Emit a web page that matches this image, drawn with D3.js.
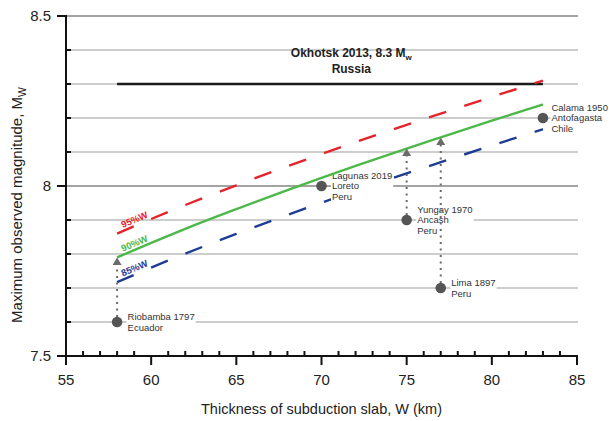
<!DOCTYPE html>
<html>
<head>
<meta charset="utf-8">
<script src="https://cdn.jsdelivr.net/npm/d3@7"></script>
<style>
  html, body { margin: 0; padding: 0; background: #fff; }
  svg { display: block; font-family: "Liberation Sans", Arial, sans-serif; }
</style>
</head>
<body>
<svg id="chart" width="609" height="421"></svg>
<script>
// ---- data ----
const xTicks = [55, 60, 65, 70, 75, 80, 85];
const yTicks = [7.5, 8, 8.5];
const yTickLabels = ["7.5", "8", "8.5"];
const gridValues = [7.6, 7.7, 7.8, 7.9, 8.0, 8.1, 8.2, 8.3, 8.4, 8.5];

const lineNames = ["95%W", "90%W", "85%W"];
const curveW = [58, 60, 62, 65, 68, 70, 72, 75, 77, 80, 83];
const line95 = [7.860, 7.903, 7.944, 8.002, 8.058, 8.094, 8.129, 8.180, 8.213, 8.262, 8.310];
const line90 = [7.790, 7.833, 7.874, 7.932, 7.988, 8.024, 8.059, 8.110, 8.143, 8.192, 8.240];
const line85 = [7.717, 7.760, 7.801, 7.859, 7.915, 7.951, 7.986, 8.037, 8.070, 8.119, 8.167];

const okhotskW = [58, 83];
const okhotskM = 8.3;
const okhotskLabel = ["Okhotsk 2013, 8.3 M", "Russia"];

const eventW = [58, 70, 75, 77, 83];
const eventM = [7.6, 8.0, 7.9, 7.7, 8.2];
const eventArrowTo = [7.79, null, 8.11, 8.143, null];
const eventLabels = [
  ["Riobamba 1797", "Ecuador"],
  ["Lagunas 2019", "Loreto", "Peru"],
  ["Yungay 1970", "Ancash", "Peru"],
  ["Lima 1897", "Peru"],
  ["Calama 1950", "Antofagasta", "Chile"]
];

// ---- drawing ----
const svg = d3.select("#chart");
const x = d3.scaleLinear().domain([55, 85]).range([66, 577]);
const y = d3.scaleLinear().domain([7.5, 8.5]).range([356, 16]);

// gridlines
svg.append("g").selectAll("line").data(gridValues).join("line")
  .attr("x1", x(55)).attr("x2", x(85) + 1)
  .attr("y1", d => y(d)).attr("y2", d => y(d))
  .attr("stroke", d => (Math.abs(d - 8) < 1e-6 || Math.abs(d - 8.5) < 1e-6) ? "#a3a3a3" : "#cdcdcd")
  .attr("stroke-width", 2);

// Okhotsk line
svg.append("line")
  .attr("x1", x(okhotskW[0])).attr("x2", x(okhotskW[1]))
  .attr("y1", y(okhotskM)).attr("y2", y(okhotskM))
  .attr("stroke", "#1a1a1a").attr("stroke-width", 2.6);

const okT = svg.append("text").attr("text-anchor", "middle")
  .attr("font-size", 12).attr("font-weight", "bold").attr("fill", "#222");
const okL1 = okT.append("tspan").attr("x", x(71.75)).attr("y", 57);
okL1.append("tspan").text(okhotskLabel[0]);
okL1.append("tspan").attr("font-size", 8).attr("dy", 3).text("w");
okT.append("tspan").attr("x", x(71.75)).attr("y", 73).text(okhotskLabel[1]);

// regression curves
const lineData = [
  { name: lineNames[0], vals: line95, color: "#e5232b", dash: "18,19" },
  { name: lineNames[1], vals: line90, color: "#4cb848", dash: null },
  { name: lineNames[2], vals: line85, color: "#1f3c94", dash: "18,19" }
];
const lineGen = d3.line().x(d => x(d[0])).y(d => y(d[1])).curve(d3.curveMonotoneX);
const gDashed = svg.append("g");
const gLabels = svg.append("g");
const gSolid = svg.append("g");
lineData.forEach(L => {
  const pts = curveW.map((w, i) => [w, L.vals[i]]);
  const p = (L.dash ? gDashed : gSolid).append("path").attr("d", lineGen(pts))
    .attr("fill", "none").attr("stroke", L.color).attr("stroke-width", 2.4);
  if (L.dash) p.attr("stroke-dasharray", L.dash);
});

// line labels (rotated along line start)
lineData.forEach(L => {
  const x0 = x(curveW[0]), y0 = y(L.vals[0]);
  const x1 = x(curveW[2]), y1 = y(L.vals[2]);
  const ang = Math.atan2(y1 - y0, x1 - x0) * 180 / Math.PI;
  const frac = 0.4 / (curveW[2] - curveW[0]);
  const px = x0 + (x1 - x0) * frac, py = y0 + (y1 - y0) * frac;
  svg.append("text")
    .attr("transform", `translate(${px},${py}) rotate(${ang})`)
    .attr("dy", -3)
    .attr("font-size", 9.5).attr("font-weight", "bold")
    .attr("fill", L.color).text(L.name);
});

// event labels with white background
const lineH = 10.5;
eventW.forEach((w, i) => {
  const px = x(w), py = y(eventM[i]);
  const lines = eventLabels[i];
  const off = (i === eventW.length - 1) ? 8.5 : 10.5;
  const g = gLabels.append("g");
  const t = g.append("text").attr("font-size", 9.5).attr("fill", "#333");
  lines.forEach((s, k) => {
    t.append("tspan").attr("x", px + off)
      .attr("y", py + (k - (lines.length - 1) / 2) * lineH)
      .attr("dy", "0.35em").text(s);
  });
  const bb = t.node().getBBox();
  g.insert("rect", "text")
    .attr("x", bb.x - 1).attr("y", bb.y + 1)
    .attr("width", bb.width + 2).attr("height", bb.height - 1)
    .attr("fill", "#fff");
});

// dotted arrows
eventW.forEach((w, i) => {
  if (eventArrowTo[i] == null) return;
  const px = x(w), py = y(eventM[i]), ty = y(eventArrowTo[i]);
  svg.append("line")
    .attr("x1", px).attr("x2", px)
    .attr("y1", py - 5).attr("y2", ty + 7)
    .attr("stroke", "#6b6b6b").attr("stroke-width", 2)
    .attr("stroke-dasharray", "2,4.5");
  svg.append("path")
    .attr("d", `M${px},${ty} L${px - 4.5},${ty + 7.5} L${px + 4.5},${ty + 7.5} Z`)
    .attr("fill", "#6b6b6b");
});

// points
svg.append("g").selectAll("circle").data(eventW).join("circle")
  .attr("cx", d => x(d)).attr("cy", (d, i) => y(eventM[i]))
  .attr("r", 5.3).attr("fill", "#555");

// axes
const ax = svg.append("g").attr("stroke", "#111").attr("stroke-width", 2);
ax.append("line").attr("x1", 57).attr("x2", x(85) + 1).attr("y1", y(7.5)).attr("y2", y(7.5));
ax.append("line").attr("x1", x(55)).attr("x2", x(55)).attr("y1", y(8.5) - 1).attr("y2", y(7.5) + 9);
ax.selectAll(".xmaj").data(xTicks).join("line")
  .attr("x1", d => x(d)).attr("x2", d => x(d))
  .attr("y1", y(7.5)).attr("y2", y(7.5) + 9);
ax.selectAll(".xmin").data(d3.range(56, 85).filter(v => v % 5 !== 0)).join("line")
  .attr("x1", d => x(d)).attr("x2", d => x(d))
  .attr("y1", y(7.5)).attr("y2", y(7.5) - 5);
ax.selectAll(".ymaj").data(yTicks).join("line")
  .attr("x1", x(55) - 9).attr("x2", x(55))
  .attr("y1", d => y(d)).attr("y2", d => y(d));
ax.selectAll(".ymin").data(gridValues.filter(v => Math.abs(v - 8) > 1e-6 && Math.abs(v - 8.5) > 1e-6)).join("line")
  .attr("x1", x(55)).attr("x2", x(55) + 5)
  .attr("y1", d => y(d)).attr("y2", d => y(d));

// tick labels
svg.append("g").selectAll("text").data(xTicks).join("text")
  .attr("x", d => x(d)).attr("y", 385)
  .attr("text-anchor", "middle").attr("font-size", 15).attr("fill", "#222")
  .text(d => d);
svg.append("g").selectAll("text").data(yTicks).join("text")
  .attr("x", 51).attr("y", d => y(d)).attr("dy", "0.35em")
  .attr("text-anchor", "end").attr("font-size", 15).attr("fill", "#222")
  .text((d, i) => yTickLabels[i]);

// axis titles
svg.append("text").attr("x", x(70)).attr("y", 414)
  .attr("text-anchor", "middle").attr("font-size", 14.5).attr("fill", "#222")
  .text("Thickness of subduction slab, W (km)");

const yt = svg.append("text")
  .attr("transform", `translate(22,205) rotate(-90)`)
  .attr("text-anchor", "middle").attr("font-size", 15).attr("fill", "#222");
yt.append("tspan").text("Maximum observed magnitude, M");
yt.append("tspan").attr("font-size", 10.5).attr("dy", 4).text("W");
</script>
</body>
</html>
